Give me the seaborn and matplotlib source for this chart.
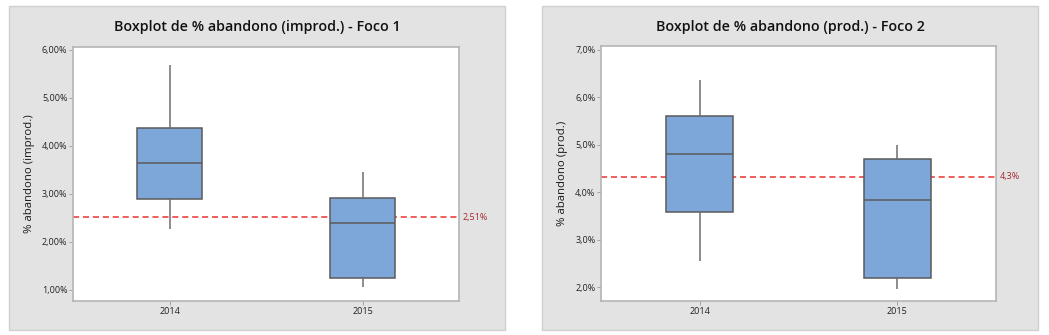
import numpy as np
import pandas as pd
import matplotlib
matplotlib.use("Agg")
import matplotlib.pyplot as plt
from matplotlib.patches import Rectangle
from matplotlib.ticker import FuncFormatter
import seaborn as sns

# ---- data (five-number summaries: min, Q1, median, Q3, max)
years = ["2014", "2015"]
improd_2014 = [2.26, 2.89, 3.65, 4.37, 5.69]
improd_2015 = [1.06, 1.24, 2.39, 2.92, 3.45]
prod_2014 = [2.56, 3.59, 4.80, 5.60, 6.37]
prod_2015 = [1.97, 2.20, 3.84, 4.70, 5.00]
ref_improd = 2.51
ref_prod = 4.33
ref_improd_label = "2,51%"
ref_prod_label = "4,3%"
titles = ["Boxplot de % abandono (improd.) - Foco 1",
          "Boxplot de % abandono (prod.) - Foco 2"]
ylabels = ["% abandono (improd.)", "% abandono (prod.)"]
yticks_improd = [1, 2, 3, 4, 5, 6]
yticks_prod = [2, 3, 4, 5, 6, 7]

sns.set_theme(style="white")
plt.rcParams['font.family'] = ['Open Sans', 'DejaVu Sans']

W, H = 1049, 335
fig = plt.figure(figsize=(W / 100, H / 100), dpi=100)
fig.patch.set_facecolor("white")

def px(x0, y0, x1, y1):
    return [x0 / W, 1 - y1 / H, (x1 - x0) / W, (y1 - y0) / H]

# gray panels
for (x0, x1) in [(9, 505), (542, 1038)]:
    fig.patches.append(Rectangle((x0 / W, 1 - 330 / H), (x1 - x0) / W, (330 - 6) / H,
                                 transform=fig.transFigure, facecolor="#E3E3E3",
                                 edgecolor="#CFCFCF", linewidth=1.0, zorder=-5))

BOX = "#7DA7D9"
EDGE = "#5A5A5A"
RED = "#E8312F"

panels = [
    dict(rect=px(73, 47, 459, 301), d=[improd_2014, improd_2015], ylim=(0.77, 6.06),
         ticks=yticks_improd, fmt=lambda v, p: f"{v:.2f}%".replace(".", ","),
         ref=ref_improd, reflabel=ref_improd_label, title=titles[0], ylabel=ylabels[0],
         cx=(9 + 505) / 2),
    dict(rect=px(601, 46, 996, 301), d=[prod_2014, prod_2015], ylim=(1.71, 7.08),
         ticks=yticks_prod, fmt=lambda v, p: f"{v:.1f}%".replace(".", ","),
         ref=ref_prod, reflabel=ref_prod_label, title=titles[1], ylabel=ylabels[1],
         cx=(542 + 1038) / 2),
]

for p in panels:
    ax = fig.add_axes(p["rect"])
    ax.set_zorder(2)
    df = pd.DataFrame({
        "Ano": np.repeat(years, [len(p["d"][0]), len(p["d"][1])]),
        "v": np.concatenate([p["d"][0], p["d"][1]]),
    })
    ax.axhline(p["ref"], color=RED, linestyle=(0, (4, 2.5)), linewidth=1.1, zorder=0.5)
    sns.boxplot(data=df, x="Ano", y="v", ax=ax, whis=(0, 100), width=0.34,
                color=BOX, saturation=1, linecolor=EDGE, linewidth=1.1,
                showfliers=False, showcaps=False,
                whiskerprops={"color": "#6E6E6E"})
    ax.set_xlim(-0.5, 1.5)
    ax.set_ylim(*p["ylim"])
    ax.set_yticks(p["ticks"])
    ax.yaxis.set_major_formatter(FuncFormatter(p["fmt"]))
    ax.text(1.0 + 4 / (p["rect"][2] * W), p["ref"], p["reflabel"],
            transform=ax.get_yaxis_transform(), color="#A3262E", fontsize=6.5,
            va="center", ha="left")
    ax.set_xlabel("")
    ax.set_ylabel(p["ylabel"], fontsize=8.2, color="#1a1a1a", labelpad=5)
    ax.tick_params(axis="both", labelsize=6.5, colors="#222222", length=3, width=0.6,
                   left=True, bottom=True, pad=1)
    ax.tick_params(axis="y", color="#999999")
    ax.tick_params(axis="x", color="#999999")
    for s in ax.spines.values():
        s.set_color("#B5B5B5")
        s.set_linewidth(1.2)
    ax.set_facecolor("white")
    fig.text(p["cx"] / W, 1 - 27 / H, p["title"], ha="center", va="center",
             fontsize=10.3, fontweight="semibold", color="#111111")

fig.savefig("out.png", dpi=100, facecolor=fig.get_facecolor())
